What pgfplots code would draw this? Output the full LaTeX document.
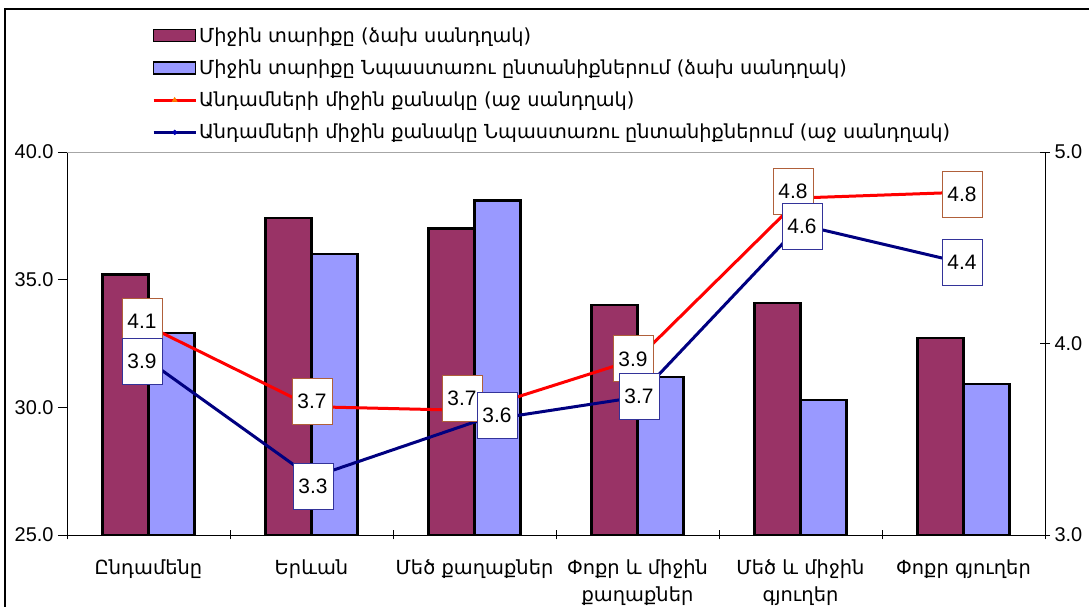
\documentclass[border=0pt]{standalone}
\usepackage{fontspec}
\setmainfont{Liberation Sans}
\newfontfamily\arm{DejaVu Sans}
\usepackage{pgfplots}
\pgfplotsset{compat=1.18}
\definecolor{barA}{HTML}{993366}
\definecolor{barB}{HTML}{9999FF}
\definecolor{navy}{HTML}{000080}
\definecolor{siennaB}{HTML}{B0603A}
\definecolor{indig}{HTML}{333399}
\pgfplotstableread{
x y dx dy lab
0 4.09 -6.5 5 4.1
1 3.67 0.5 5 3.7
2 3.65 -12.5 12 3.7
3 3.92 -4.5 0 3.9
4 4.76 -7.5 7 4.8
5 4.79 -1.5 -2 4.8
}\redtab
\pgfplotstableread{
x y dx dy lab
0 3.91 -6.5 -1 3.9
1 3.30 1.5 -9 3.3
2 3.59 22.5 7 3.6
3 3.72 1.5 1 3.7
4 4.62 1.5 -2 4.6
5 4.42 -1.5 1 4.4
}\bluetab
\begin{document}
\begin{tikzpicture}
\path[use as bounding box] (0,0) rectangle (1089bp,607bp);
\draw[black, line width=2.5bp] (5bp,0) -- (5bp,598bp) -- (1089bp,598bp);
\begin{axis}[
  at={(67bp,72bp)}, anchor=south west,
  width=978bp, height=383bp, scale only axis,
  xmin=-0.5, xmax=5.5, ymin=25, ymax=40,
  axis y line*=left, axis x line*=bottom,
  axis line style={-, black, line width=0.8bp},
  ybar=0pt, bar width=46bp,
  xtick={-0.5,0.5,...,5.5}, xticklabels={},
  xtick align=center, major tick length=9bp,
  extra x ticks={0,1,2,3,4,5},
  extra x tick labels={{\arm Ընդամենը},{\arm Երևան},{\arm Մեծ քաղաքներ},{\arm Փոքր և միջին\\\arm քաղաքներ},{\arm Մեծ և միջին\\\arm գյուղեր},{\arm Փոքր գյուղեր}},
  extra x tick style={major tick length=0pt, tick label style={font=\fontsize{19.5}{27}\selectfont, align=center, anchor=north, yshift=-21bp}},
  ytick={25,30,35,40},
  ytick align=outside, 
  yticklabel style={font=\fontsize{20}{24}\selectfont, xshift=-1bp},
  /pgf/number format/.cd, fixed, fixed zerofill, precision=1, assume math mode=true,
  /pgfplots/.cd,
  tick style={black, line width=0.8bp},
]
\addplot[ybar, fill=barA, draw=black, line width=2.2bp] coordinates {(0,35.2) (1,37.4) (2,37.0) (3,34.0) (4,34.1) (5,32.7)};
\addplot[ybar, fill=barB, draw=black, line width=2.2bp] coordinates {(0,32.9) (1,36.0) (2,38.1) (3,31.2) (4,30.3) (5,30.9)};
\draw[gray!70, line width=0.8bp] (rel axis cs:0,1) -- (rel axis cs:1,1);
\end{axis}
\begin{axis}[
  at={(67bp,72bp)}, anchor=south west,
  width=978bp, height=383bp, scale only axis,
  xmin=-0.5, xmax=5.5, ymin=3, ymax=5,
  axis y line*=right, axis x line=none,
  axis line style={-, black, line width=0.8bp},
  ytick={3,4,5}, ytick align=center, major tick length=10bp,
  tick style={black, line width=0.8bp},
  yticklabel style={font=\fontsize{20}{24}\selectfont, xshift=1bp},
  /pgf/number format/.cd, fixed, fixed zerofill, precision=1, assume math mode=true,
  /pgfplots/.cd,
  clip=false,
  legend style={at={(0.0869,1.33)}, anchor=north west, draw=none, fill=none,
    font=\fontsize{19.4}{23}\selectfont\arm, row sep=12bp, inner sep=0pt,
    /tikz/every even column/.append style={column sep=4bp}},
  legend cell align=left,
]
\addlegendimage{legend image code/.code={\draw[fill=barA, draw=black, line width=1.2bp] (0bp,-6bp) rectangle (42bp,6bp);}}
\addlegendentry{Միջին տարիքը (ձախ սանդղակ)}
\addlegendimage{legend image code/.code={\draw[fill=barB, draw=black, line width=1.2bp] (0bp,-6bp) rectangle (42bp,6bp);}}
\addlegendentry{Միջին տարիքը Նպաստառու ընտանիքներում (ձախ սանդղակ)}
\addlegendimage{legend image code/.code={\draw[red, line width=3bp] (0bp,0bp) -- (42bp,0bp); \fill[orange] (18.5bp,-1.5bp) -- (23.5bp,-1.5bp) -- (21bp,3bp) -- cycle;}}
\addlegendentry{Անդամների միջին քանակը (աջ սանդղակ)}
\addlegendimage{legend image code/.code={\draw[navy, line width=3bp] (0bp,0bp) -- (42bp,0bp); \fill[blue!70!black] (21bp,-2.5bp) -- (23.5bp,0bp) -- (21bp,2.5bp) -- (18.5bp,0bp) -- cycle;}}
\addlegendentry{Անդամների միջին քանակը Նպաստառու ընտանիքներում (աջ սանդղակ)}
\addplot[red, line width=3bp, forget plot,
  point meta=explicit symbolic,
  nodes near coords,
  visualization depends on={\thisrow{dx} \as \dx},
  visualization depends on={\thisrow{dy} \as \dy},
  every node near coord/.append style={anchor=center, xshift=\dx bp, yshift=\dy bp, fill=white, draw=siennaB, line width=0.8bp, minimum width=40bp, minimum height=46bp, inner sep=0pt, text=black, font=\fontsize{21}{24}\selectfont},
] table[x=x, y=y, meta=lab] {\redtab};
\addplot[navy, line width=3bp, forget plot,
  point meta=explicit symbolic,
  nodes near coords,
  visualization depends on={\thisrow{dx} \as \dx},
  visualization depends on={\thisrow{dy} \as \dy},
  every node near coord/.append style={anchor=center, xshift=\dx bp, yshift=\dy bp, fill=white, draw=indig, line width=0.8bp, minimum width=40bp, minimum height=46bp, inner sep=0pt, text=black, font=\fontsize{21}{24}\selectfont},
] table[x=x, y=y, meta=lab] {\bluetab};
\end{axis}
\end{tikzpicture}
\end{document}
